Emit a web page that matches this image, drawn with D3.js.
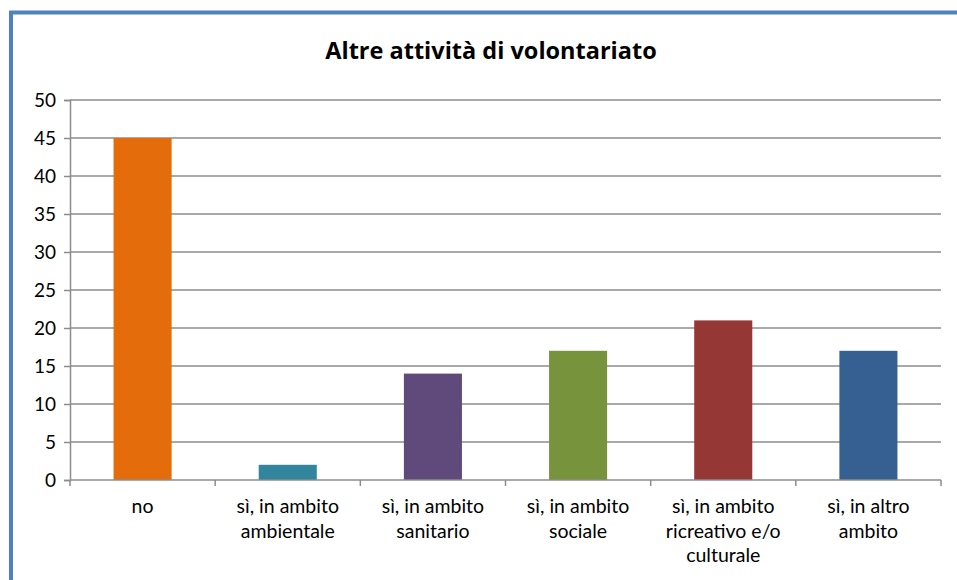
<!DOCTYPE html>
<html>
<head>
<meta charset="utf-8">
<script src="https://d3js.org/d3.v7.min.js"></script>
<style>
  body { margin: 0; background: #fff; overflow: hidden; }
  svg { display: block; }
  text { font-family: Lato, "Open Sans", sans-serif; }
</style>
</head>
<body>
<div id="chart"></div>
<script>
// data
const categories = [
  ['no'],
  ['sì, in ambito', 'ambientale'],
  ['sì, in ambito', 'sanitario'],
  ['sì, in ambito', 'sociale'],
  ['sì, in ambito', 'ricreativo e/o', 'culturale'],
  ['sì, in altro', 'ambito']
];
const values = [45, 2, 14, 17, 21, 17];
const colors = ['#e46c0a', '#31859c', '#604a7b', '#77933c', '#953735', '#376092'];
const yTicks = [0, 5, 10, 15, 20, 25, 30, 35, 40, 45, 50];
const title = 'Altre attività di volontariato';

let width = 957, height = 580;
let plotLeft = 70, plotRight = 941, plotTop = 100, plotBottom = 480;

let svg = d3.select('#chart')
  .append('svg')
    .attr('width', width)
    .attr('height', height)
;

// blue frame, only left and top edges are in view
svg.append('path')
    .attr('d', 'M11,' + (height + 10) + 'V12.5H' + (width + 10))
    .attr('fill', 'none')
    .attr('stroke', '#4f81bd')
    .attr('stroke-width', 4)
;

let x = d3.scaleBand()
  .domain(d3.range(categories.length))
  .range([plotLeft, plotRight])
  .paddingInner(0)
  .paddingOuter(0);

let y = d3.scaleLinear()
  .domain([0, 50])
  .range([plotBottom, plotTop]);

// gridlines
svg.selectAll('.grid').data(yTicks.filter(d => d > 0)).enter()
  .append('line')
    .attr('class', 'grid')
    .attr('x1', plotLeft)
    .attr('x2', plotRight)
    .attr('y1', d => y(d))
    .attr('y2', d => y(d))
    .attr('stroke', '#8c8c8c')
    .attr('stroke-width', 1.5)
;

// bars
let bw = x.bandwidth() * 0.4;
svg.selectAll('.bar').data(values).enter()
  .append('rect')
    .attr('class', 'bar')
    .attr('x', (d, i) => x(i) + x.bandwidth() / 2 - bw / 2)
    .attr('y', d => y(d))
    .attr('width', bw)
    .attr('height', d => y(0) - y(d))
    .attr('fill', (d, i) => colors[i])
;

// y axis
let yAxis = svg.append('g')
  .attr('transform', 'translate(' + plotLeft + ',0)')
  .call(d3.axisLeft(y).tickValues(yTicks).tickSize(6).tickPadding(8));
yAxis.selectAll('path, line').attr('stroke', '#8c8c8c').attr('stroke-width', 1.5);
yAxis.selectAll('text').attr('font-size', 19).attr('fill', '#000')
  .style('font-family', 'Lato, sans-serif');

// x axis line and ticks at band boundaries
svg.append('line')
    .attr('x1', plotLeft)
    .attr('x2', plotRight)
    .attr('y1', y(0))
    .attr('y2', y(0))
    .attr('stroke', '#8c8c8c')
    .attr('stroke-width', 1.5)
;
svg.selectAll('.xtick').data(d3.range(categories.length + 1)).enter()
  .append('line')
    .attr('class', 'xtick')
    .attr('x1', i => plotLeft + i * x.bandwidth())
    .attr('x2', i => plotLeft + i * x.bandwidth())
    .attr('y1', y(0))
    .attr('y2', y(0) + 6)
    .attr('stroke', '#8c8c8c')
    .attr('stroke-width', 1.5)
;

// category labels
let lab = svg.selectAll('.xlabel').data(categories).enter()
  .append('text')
    .attr('class', 'xlabel')
    .attr('text-anchor', 'middle')
    .attr('font-size', 19.5)
    .attr('fill', '#000')
;
lab.selectAll('tspan').data((d, i) => d.map(t => ({t: t, i: i}))).enter()
  .append('tspan')
    .attr('x', d => x(d.i) + x.bandwidth() / 2)
    .attr('y', (d, j) => 513 + j * 24.5)
    .text(d => d.t)
;

// title
svg.append('text')
    .attr('x', 491)
    .attr('y', 59)
    .attr('text-anchor', 'middle')
    .attr('font-size', 23.5)
    .attr('font-weight', 'bold')
    .attr('fill', '#000')
    .style('font-family', '"Open Sans", sans-serif')
    .text(title)
;
</script>
</body>
</html>
